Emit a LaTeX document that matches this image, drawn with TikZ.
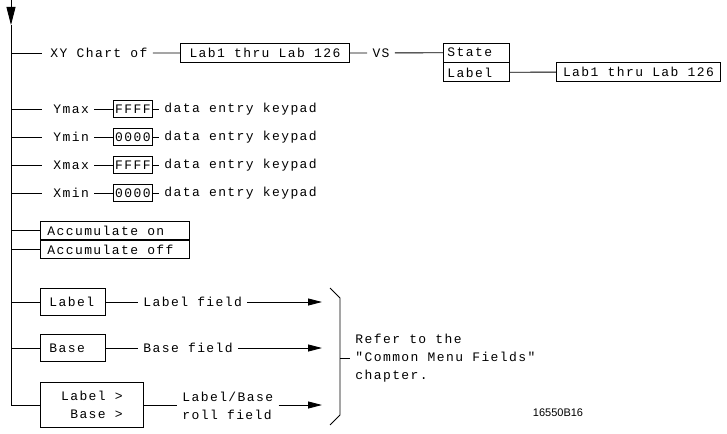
\documentclass[tikz,border=0pt]{standalone}
\usepackage{fontspec}
\usetikzlibrary{arrows.meta,positioning}
\newfontfamily\plotfont[LetterSpace=10.8]{Liberation Mono}
\newfontfamily\tagfont{Liberation Sans}

\begin{document}
\begin{tikzpicture}[x=1pt,y=-1pt,line width=0.9pt,
  font=\plotfont\fontsize{13}{18}\selectfont,
  txt/.style={inner sep=5pt},
  fieldbox/.style={draw,inner ysep=0pt,minimum height=19pt},
  valbox/.style={draw,inner xsep=1pt,inner ysep=0pt,minimum width=39pt,minimum height=17pt},
  accbox/.style={draw,inner xsep=7pt,inner ysep=0pt,minimum height=18pt},
  menubox/.style={draw,text width=47pt,align=left,inner xsep=9pt,inner ysep=0pt,minimum height=27pt},
  toarrow/.style={-{Triangle[length=14pt,width=7pt]}}]
  \useasboundingbox (0,0) rectangle (727,433);

  % spine
  \coordinate (spine) at (11,0);
  \coordinate (spinetip) at (11,25);
  \coordinate (spineend) at (11,405);
  \draw[-{Triangle[length=18pt,width=9pt]}] (spine) -- (spinetip);
  \draw (spinetip) -- (spineend);

  % XY chart row
  \node[txt,anchor=west] (xy) at (45,53) {XY Chart of};
  \node[fieldbox,anchor=west,minimum width=169pt] (xyrange) at (180,53) {Lab1 thru Lab 126};
  \node[txt] (vs) at (381,53) {VS};
  \node[fieldbox,anchor=south west,text width=58pt,align=left,inner xsep=4pt] (state) at (443,62.5) {State};
  \node[fieldbox,anchor=north west,text width=58pt,align=left,inner xsep=4pt] (labelsel) at (443,62.5) {Label};
  \node[fieldbox,anchor=west,minimum width=164pt] (labrange) at (556,71.7) {Lab1 thru Lab 126};
  \draw[shorten >=3pt] (xy.west -| spine) -- (xy);
  \draw (xy) -- (xyrange) -- (vs) -- (state);
  \draw (labelsel) -- (labrange);

  % limits
  \foreach \nm/\val/\y in {Ymax/FFFF/109,Ymin/0000/137,Xmax/FFFF/165,Xmin/0000/193} {
    \node[txt,anchor=west] (\nm) at (48,\y) {\nm};
    \node[valbox,anchor=west] (\nm-val) at (113,\y) {\val};
    \node[txt,anchor=west] (\nm-pad) at (159,\y) {data entry keypad};
    \draw[shorten >=6pt] (\nm.west -| spine) -- (\nm);
    \draw (\nm) -- (\nm-val) -- (\nm-pad);
  }

  % accumulate
  \node[accbox,anchor=south west] (accon) at (40,240) {\makebox[135pt][l]{Accumulate on}};
  \node[accbox,anchor=north west] (accoff) at (40,240) {\makebox[135pt][l]{Accumulate off}};
  \draw (accon.west -| spine) -- (accon);
  \draw (accoff.west -| spine) -- (accoff);

  % common fields
  \coordinate (arrowend) at (322,0);
  \node[menubox,anchor=west] (label) at (40,302) {Label};
  \node[menubox,anchor=west] (base) at (40,348) {Base};
  \node[draw,anchor=west,align=right,minimum width=103pt,minimum height=45pt,inner ysep=0pt] (labbase) at (40,405) {Label >\\Base >};
  \node[txt,anchor=west] (labfield) at (138,302) {Label field};
  \node[txt,anchor=west] (basefield) at (138,348) {Base field};
  \node[txt,anchor=west,align=left] (rollfield) at (177,406) {Label/Base\\roll field};
  \draw (label.west -| spine) -- (label);
  \draw (base.west -| spine) -- (base);
  \draw (labbase.west -| spine) -- (labbase);
  \draw (label) -- (labfield);
  \draw (base) -- (basefield);
  \draw (labbase) -- (rollfield.west |- labbase.east);
  \draw[toarrow] (labfield) -- (labfield.east -| arrowend);
  \draw[toarrow] (basefield) -- (basefield.east -| arrowend);
  \draw[toarrow] (rollfield.east |- labbase.east) -- (labbase.east -| arrowend);

  % bracket
  \coordinate (brace) at (340,358);
  \draw (330,288) -- (brace |- 0,298) -- (brace |- 0,415) -- (330,425);
  \node[txt,anchor=west,align=left] (refer) at (350,358) {Refer to the\\"Common Menu Fields"\\chapter.};
  \draw (brace) -- (refer);

  \node[font=\tagfont\fontsize{11}{13}\selectfont] (figno) at (558,413) {16550B16};
\end{tikzpicture}
\end{document}
